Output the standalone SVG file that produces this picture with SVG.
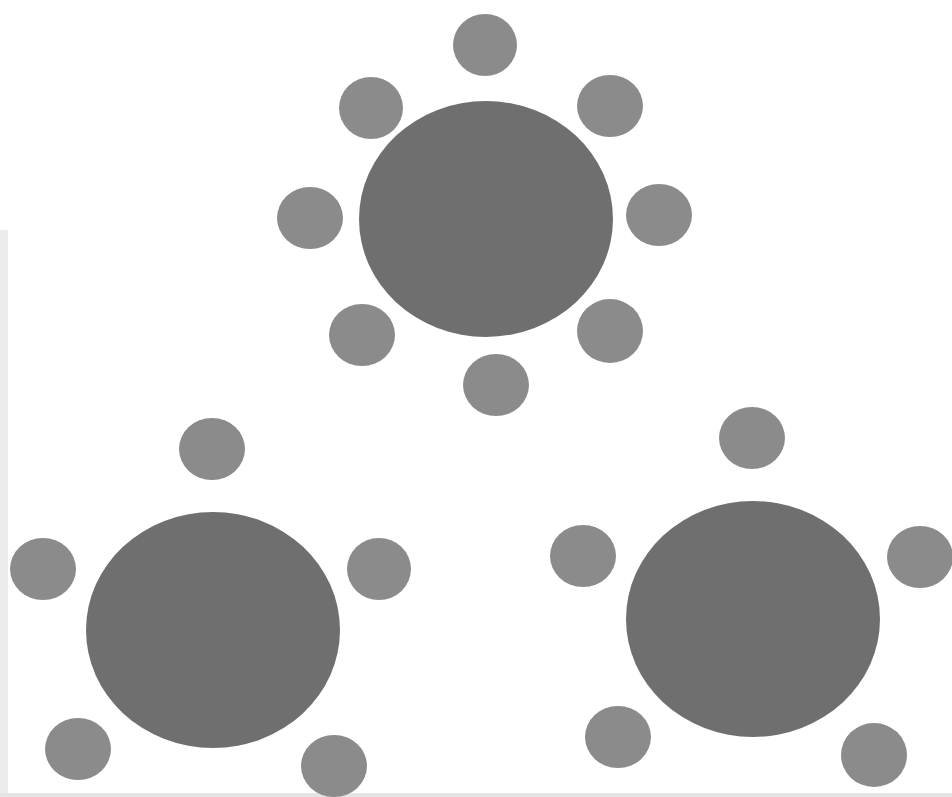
<svg xmlns="http://www.w3.org/2000/svg" width="952" height="797" viewBox="0 0 952 797">
  <style>
    .table { fill: #6f6f6f; }
    .chair { fill: #8b8b8b; }
  </style>
  <rect x="0" y="0" width="952" height="797" fill="#ffffff"/>
  <rect x="0" y="230" width="8" height="567" fill="#ececec"/>
  <rect x="0" y="793" width="952" height="4" fill="#e4e4e4"/>

  <g id="table-top">
    <ellipse class="table" cx="486" cy="219" rx="127" ry="118"/>
    <ellipse class="chair" cx="485" cy="45" rx="32" ry="31"/>
    <ellipse class="chair" cx="371" cy="108" rx="32" ry="31"/>
    <ellipse class="chair" cx="610" cy="106" rx="33" ry="31"/>
    <ellipse class="chair" cx="310" cy="218" rx="33" ry="31"/>
    <ellipse class="chair" cx="659" cy="215" rx="33" ry="31"/>
    <ellipse class="chair" cx="362" cy="335" rx="33" ry="31"/>
    <ellipse class="chair" cx="610" cy="331" rx="33" ry="32"/>
    <ellipse class="chair" cx="496" cy="385" rx="33" ry="31"/>
  </g>

  <g id="table-bottom-left">
    <ellipse class="table" cx="213" cy="630" rx="127" ry="118"/>
    <ellipse class="chair" cx="212" cy="449" rx="33" ry="31"/>
    <ellipse class="chair" cx="43" cy="569" rx="33" ry="31"/>
    <ellipse class="chair" cx="379" cy="569" rx="32" ry="31"/>
    <ellipse class="chair" cx="78" cy="749" rx="33" ry="31"/>
    <ellipse class="chair" cx="334" cy="766" rx="33" ry="31"/>
  </g>

  <g id="table-bottom-right">
    <ellipse class="table" cx="753" cy="619" rx="127" ry="118"/>
    <ellipse class="chair" cx="752" cy="438" rx="33" ry="31"/>
    <ellipse class="chair" cx="583" cy="556" rx="33" ry="31"/>
    <ellipse class="chair" cx="920" cy="557" rx="33" ry="31"/>
    <ellipse class="chair" cx="618" cy="737" rx="33" ry="31"/>
    <ellipse class="chair" cx="874" cy="755" rx="33" ry="32"/>
  </g>

  <g id="connectors"/>
</svg>
